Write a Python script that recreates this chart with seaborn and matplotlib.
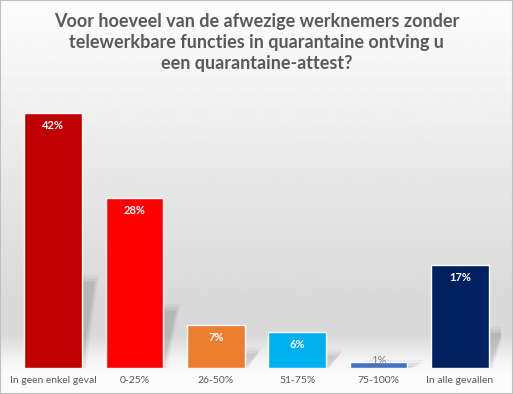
import numpy as np
import seaborn as sns
import matplotlib.pyplot as plt
from matplotlib.patches import Rectangle, Polygon

categories = ["In geen enkel geval", "0-25%", "26-50%", "51-75%", "75-100%", "In alle gevallen"]
values = [42, 28, 7, 6, 1, 17]
colors = ["#C00000", "#FF0000", "#ED7D31", "#00B0F0", "#4472C4", "#002060"]
title = "Voor hoeveel van de afwezige werknemers zonder\ntelewerkbare functies in quarantaine ontving u\neen quarantaine-attest?"

sns.set_style("white")
plt.rcParams['font.family'] = ['Lato', 'DejaVu Sans']

fig = plt.figure(figsize=(5.13, 3.94), dpi=100)

# background gradient (light at top, grey "floor" near the bars, white at bottom)
bg = fig.add_axes([0, 0, 1, 1], zorder=0)
ys = np.array([0, 60, 200, 300, 335, 360, 375, 394])
gs = np.array([252, 246, 229, 217, 217, 244, 252, 252]) / 255
yy = np.arange(394)
grad = np.interp(yy, ys, gs)[:, None]
bg.imshow(grad, aspect='auto', cmap='gray', vmin=0, vmax=1, extent=[0, 1, 0, 1], origin='upper')
bg.axis('off')

ax = fig.add_axes([0.024, 0.066, 0.952, 0.678], zorder=1)
ax.patch.set_alpha(0)
sns.barplot(x=categories, y=values, hue=categories, palette=colors, legend=False,
            saturation=1, width=0.71, ax=ax, zorder=3)
ax.set_ylim(0, 44)
ax.set_xlim(-0.5, 5.5)
ax.set_xlabel("")
ax.set_ylabel("")
ax.set_yticks([])
sns.despine(ax=ax, left=True, bottom=True)
ax.tick_params(axis='x', length=0, pad=6, labelsize=7.5, labelcolor='#595959')

# soft perspective shadows behind the bars
for p in list(ax.patches):
    x0, w, h = p.get_x(), p.get_width(), p.get_height()
    for grow, a in [(0.05, 0.04), (0.025, 0.05), (0.0, 0.07)]:
        sh = h * 0.34
        shift = 0.16
        poly = Polygon([(x0 + 0.05, 0), (x0 + w + grow, 0),
                        (x0 + w + shift + grow, sh + grow * 20), (x0 + shift + 0.05, sh + grow * 20)],
                       closed=True, facecolor='black', edgecolor='none', alpha=a, zorder=2)
        ax.add_patch(poly)

bars = ax.patches[:len(values)]
for p, v in zip(bars, values):
    cx = p.get_x() + p.get_width() / 2
    if v >= 3:
        ax.annotate(f"{v}%", (cx, p.get_height()), xytext=(0, -9), textcoords='offset points',
                    ha='center', va='center', color='white', fontsize=8, fontweight='bold', zorder=4)
    else:
        ax.annotate(f"{v}%", (cx, p.get_height()), xytext=(0, 1), textcoords='offset points',
                    ha='center', va='center', color='#7F7F7F', fontsize=8, zorder=4)

fig.text(0.5, 1 - 13 / 394, title, ha='center', va='top', fontsize=13, fontweight='bold',
         color='#595959', linespacing=1.3)

fig.patches.append(Rectangle((0, 0), 1, 1, transform=fig.transFigure, fill=False,
                             edgecolor='#BFBFBF', lw=1.5, zorder=5))

fig.savefig("out.png", dpi=100)
